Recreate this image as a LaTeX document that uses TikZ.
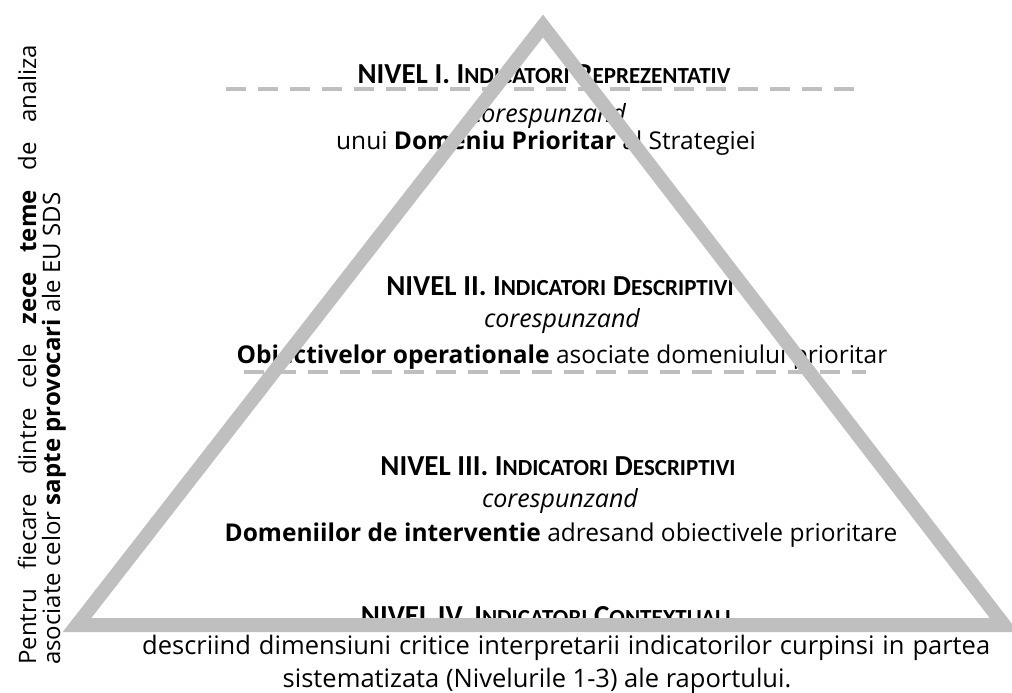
\documentclass[tikz,border=0pt]{standalone}
\usepackage{fontspec}
\setmainfont{Carlito}
\newfontfamily\osans{Open Sans}
\definecolor{trigray}{HTML}{BFBFBF}
\newcommand\hsc[1]{{\fontsize{23pt}{26pt}\selectfont #1}}
\begin{document}
\begin{tikzpicture}[x=1pt,y=-1pt,
  hd/.style={font=\fontsize{29pt}{32pt}\selectfont\bfseries, inner sep=0},
  itx/.style={font=\osans\fontsize{25pt}{30pt}\selectfont\itshape, inner sep=0},
  osx/.style={font=\osans\fontsize{24.5pt}{30pt}\selectfont, inner sep=0},
  btx/.style={font=\osans\fontsize{25.5pt}{30pt}\selectfont, inner sep=0},
  dsh/.style={draw=trigray, line width=4pt, dash pattern=on 20pt off 12pt},
  trib/.style={draw=trigray, line width=14pt, line join=miter}]
\useasboundingbox (0,0) rectangle (1012,693);
% dashed separators
\coordinate (d1a) at (226,89);
\coordinate (d1b) at (862,89);
\coordinate (d2a) at (244,372);
\coordinate (d2b) at (866,372);
\draw[dsh] (d1a) -- (d1b);
\draw[dsh] (d2a) -- (d2b);
% level I
\node[hd] (n1) at (544,74) {NIVEL I. I\hsc{NDICATORI} R\hsc{EPREZENTATIV}};
\node[itx] (c1) at (548,116) {corespunzand};
\node[osx] (t1) at (546,143) {unui \textbf{Domeniu Prioritar} al Strategiei};
% level II
\node[hd] (n2) at (560,286) {NIVEL II. I\hsc{NDICATORI} D\hsc{ESCRIPTIVI}};
\node[itx] (c2) at (562,321) {corespunzand};
\node[osx] (t2) at (562,357) {\textbf{Obiectivelor operationale} asociate domeniului prioritar};
% level III
\node[hd] (n3) at (558,466) {NIVEL III. I\hsc{NDICATORI} D\hsc{ESCRIPTIVI}};
\node[itx] (c3) at (560,501) {corespunzand};
\node[osx] (t3) at (561,535) {\textbf{Domeniilor de interventie} adresand obiectivele prioritare};
% level IV
\node[hd, anchor=base] (n4) at (546,625) {NIVEL IV. I\hsc{NDICATORI} C\hsc{ONTEXTUALI}};
\node[btx, anchor=west] (b1) at (142,648) {\makebox[848pt][s]{descriind dimensiuni critice interpretarii indicatorilor curpinsi in partea}};
\node[btx] (b2) at (537,681) {sistematizata (Nivelurile 1-3) ale raportului.};
% side text
\node[rotate=90, anchor=base west, inner sep=0, font=\osans\fontsize{24pt}{24pt}\selectfont] (side) at (36,665)
  {\parbox[t]{620pt}{\makebox[620pt][s]{Pentru fiecare dintre cele \textbf{zece teme} de analiza}\\asociate celor \textbf{sapte provocari} ale EU SDS}};
% triangle
\coordinate (apex) at (543,26);
\coordinate (bl) at (77,625);
\coordinate (br) at (1004,625);
\draw[trib] (apex) -- (br) -- (bl) -- cycle;
\end{tikzpicture}
\end{document}
